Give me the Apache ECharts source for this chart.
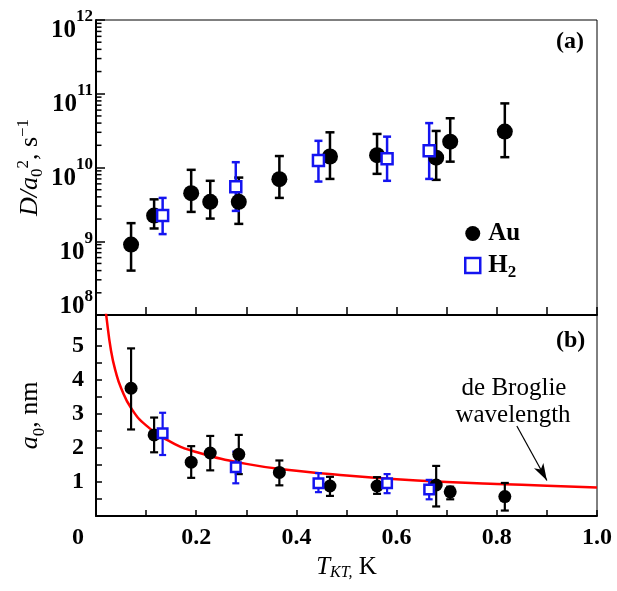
<!DOCTYPE html>
<html><head><meta charset="utf-8">
<script src="https://cdn.jsdelivr.net/npm/echarts@6/dist/echarts.min.js"></script>
<style>html,body{margin:0;padding:0;background:#fff}#c{width:617px;height:591px}</style>
</head><body><div id="c"></div>
<script>
// ---- data ----
const auT    = [0.07, 0.116, 0.19, 0.228, 0.285, 0.366, 0.467, 0.561, 0.679, 0.707, 0.816];
const auD    = [0.9e9, 2.23e9, 4.49e9, 3.42e9, 3.42e9, 6.94e9, 1.41e10, 1.47e10, 1.36e10, 2.24e10, 3.07e10];
const auDhi  = [1.76e9, 3.7e9, 9.3e9, 6.6e9, 7.3e9, 1.43e10, 3.0e10, 2.85e10, 3.13e10, 4.65e10, 7.4e10];
const auDlo  = [4.0e8, 1.49e9, 2.5e9, 2.03e9, 1.72e9, 3.87e9, 7.0e9, 8.2e9, 6.8e9, 1.2e10, 1.38e10];
const h2T    = [0.133, 0.279, 0.444, 0.581, 0.665];
const h2D    = [2.23e9, 5.5e9, 1.24e10, 1.31e10, 1.69e10];
const h2Dhi  = [3.87e9, 1.18e10, 2.3e10, 2.62e10, 4.0e10];
const h2Dlo  = [1.25e9, 2.58e9, 6.45e9, 6.6e9, 7.0e9];
const auA    = [3.75, 2.38, 1.58, 1.85, 1.81, 1.28, 0.88, 0.88, 0.91, 0.71, 0.57];
const auAhi  = [4.92, 2.89, 2.05, 2.35, 2.38, 1.63, 1.15, 1.14, 1.47, 0.86, 0.97];
const auAlo  = [2.54, 1.87, 1.12, 1.34, 1.23, 0.90, 0.59, 0.65, 0.28, 0.49, 0.16];
const h2A    = [2.43, 1.43, 0.96, 0.96, 0.78];
const h2Ahi  = [3.03, 1.89, 1.26, 1.23, 1.06];
const h2Alo  = [1.79, 0.96, 0.70, 0.67, 0.49];
const curveT = [0.019, 0.02, 0.03, 0.04, 0.05, 0.07, 0.1, 0.15, 0.2, 0.3, 0.4, 0.5, 0.6, 0.7, 0.8, 0.9, 1.0];
const curveA = [6.09, 5.94, 4.85, 4.2, 3.76, 3.17, 2.66, 2.17, 1.88, 1.53, 1.33, 1.19, 1.08, 1.0, 0.94, 0.89, 0.84];
const arrowFrom = [0.84, 2.64];
const arrowTo   = [0.90, 1.04];
const logDecades = [8, 9, 10, 11];
const logMantissas = [2, 3, 4, 5, 6, 7, 8, 9];

// ---- helpers ----
const F = '"Liberation Serif","Times New Roman",serif';
const BLUE = '#1414f0';
const zip2 = (a, b) => a.map((x, i) => [x, b[i]]);
const zip3 = (a, lo, hi) => a.map((x, i) => [x, lo[i], hi[i]]);
const logMinor = [];
logDecades.forEach(d => logMantissas.forEach(m => logMinor.push([0, m * Math.pow(10, d)])));

function errBar(color, cap, lw) {
  return function (params, api) {
    const x = api.value(0), lo = api.value(1), hi = api.value(2);
    const a = api.coord([x, hi]), b = api.coord([x, lo]);
    const st = { stroke: color, lineWidth: lw };
    return { type: 'group', children: [
      { type: 'line', shape: { x1: a[0], y1: a[1], x2: b[0], y2: b[1] }, style: st },
      { type: 'line', shape: { x1: a[0] - cap / 2, y1: a[1], x2: a[0] + cap / 2, y2: a[1] }, style: st },
      { type: 'line', shape: { x1: b[0] - cap / 2, y1: b[1], x2: b[0] + cap / 2, y2: b[1] }, style: st }
    ]};
  };
}
const txt = (o) => Object.assign({ fontFamily: F, color: '#000' }, o);

const chart = echarts.init(document.getElementById('c'));
chart.setOption({
  animation: false,
  backgroundColor: '#fff',
  textStyle: { fontFamily: F, color: '#000' },
  grid: [
    { left: 96, top: 20, width: 501, height: 295, show: true, borderColor: '#000', borderWidth: 1, backgroundColor: 'transparent' },
    { left: 96, top: 315, width: 501, height: 201, show: true, borderColor: '#000', borderWidth: 1, backgroundColor: 'transparent' }
  ],
  xAxis: [
    { type: 'value', gridIndex: 0, min: 0, max: 1, interval: 0.1,
      axisLine: { lineStyle: { color: '#000', width: 2 } },
      axisTick: { inside: true, length: 8, lineStyle: { color: '#000', width: 1.5 } },
      axisLabel: { show: false }, splitLine: { show: false } },
    { type: 'value', gridIndex: 1, min: 0, max: 1, interval: 0.1,
      axisLine: { lineStyle: { color: '#000', width: 2 } },
      axisTick: { inside: true, length: 6, lineStyle: { color: '#000', width: 1.5 } },
      axisLabel: { margin: 10, fontSize: 24, fontWeight: 'bold', fontFamily: F, color: '#000',
        formatter: v => { const k = Math.round(v * 10); return (k > 0 && k % 2 === 0) ? (k / 10).toFixed(1) : ''; } },
      splitLine: { show: false },
      name: '{i|T}{sub|KT,}{n| K}', nameLocation: 'middle', nameGap: 37, nameMoveOverlap: false,
      nameTextStyle: { fontFamily: F, color: '#000', fontSize: 24, rich: {
        i: txt({ fontSize: 25, fontStyle: 'italic' }),
        sub: txt({ fontSize: 16, fontStyle: 'italic', padding: [12, 0, 0, 0] }),
        n: txt({ fontSize: 25 }) } } }
  ],
  yAxis: [
    { type: 'log', logBase: 10, gridIndex: 0, min: 1e8, max: 1e12,
      axisLine: { show: true, lineStyle: { color: '#000', width: 2 } },
      axisTick: { inside: true, length: 9, lineStyle: { color: '#000', width: 1.5 } },
      splitLine: { show: false },
      axisLabel: { margin: 3,
        formatter: v => { const e = Math.round(Math.log10(v)); return e === 8 ? '{b8|10}{s8|8}' : '{b|10}{s|' + e + '}'; },
        rich: {
          b: txt({ fontSize: 25, fontWeight: 'bold', padding: [22, 0, 0, 0] }),
          s: txt({ fontSize: 17, fontWeight: 'bold', padding: [0, 0, 6, 0] }),
          b8: txt({ fontSize: 25, fontWeight: 'bold', padding: [0, 0, 16, 0] }),
          s8: txt({ fontSize: 17, fontWeight: 'bold', padding: [0, 0, 36, 0] })
        } },
      name: '{i|D/a}{sub|0}{sup|2}{n|, s}{sup|−1}', nameLocation: 'middle', nameGap: 50, nameRotate: 90, nameMoveOverlap: false,
      nameTextStyle: { fontFamily: F, color: '#000', fontSize: 24, rich: {
        i: txt({ fontSize: 26, fontStyle: 'italic' }),
        n: txt({ fontSize: 26 }),
        sub: txt({ fontSize: 17, padding: [14, 0, 0, 0] }),
        sup: txt({ fontSize: 17, padding: [0, 0, 14, 0] }) } } },
    { type: 'value', gridIndex: 1, min: 0, max: 5.9, interval: 1,
      axisLine: { show: true, lineStyle: { color: '#000', width: 2 } },
      axisTick: { inside: true, length: 6, lineStyle: { color: '#000', width: 1.5 } },
      minorTick: { show: true, splitNumber: 2, length: 6, lineStyle: { color: '#000', width: 1.5 } },
      splitLine: { show: false },
      axisLabel: { margin: 12, fontSize: 24, fontWeight: 'bold', fontFamily: F, color: '#000',
        formatter: v => (v > 0 && v <= 5 && Math.abs(v - Math.round(v)) < 1e-9) ? String(Math.round(v)) : '' },
      name: '{i|a}{sub|0}{n|, nm}', nameLocation: 'middle', nameGap: 48, nameRotate: 90, nameMoveOverlap: false,
      nameTextStyle: { fontFamily: F, color: '#000', fontSize: 24, rich: {
        i: txt({ fontSize: 26, fontStyle: 'italic' }),
        n: txt({ fontSize: 26 }),
        sub: txt({ fontSize: 17, padding: [18, 0, 0, 0] }) } } }
  ],
  legend: {
    orient: 'vertical', left: 459, top: 216, itemWidth: 15, itemHeight: 15, itemGap: 7, selectedMode: false,
    data: [
      { name: 'Au', icon: 'circle', itemStyle: { color: '#000', borderWidth: 0 } },
      { name: 'H2', icon: 'rect', itemStyle: { color: '#fff', borderColor: BLUE, borderWidth: 2.5 } }
    ],
    formatter: n => n === 'H2' ? '{n|H}{s|2}' : '{n|Au}',
    textStyle: { fontFamily: F, fontSize: 24, fontWeight: 'bold', color: '#000', padding: [0, 0, 0, 3], rich: {
      n: txt({ fontSize: 25, fontWeight: 'bold' }),
      s: txt({ fontSize: 17, fontWeight: 'bold', padding: [14, 0, 0, 0] }) } }
  },
  series: [
    // minor ticks of log axis (drawn through the log scale)
    { type: 'custom', xAxisIndex: 0, yAxisIndex: 0, data: logMinor, encode: { x: 0, y: 1 }, clip: false, silent: true, z: 5,
      renderItem: (p, api) => { const c = api.coord([api.value(0), api.value(1)]);
        return { type: 'line', shape: { x1: c[0], y1: c[1], x2: c[0] + 5.5, y2: c[1] }, style: { stroke: '#000', lineWidth: 1.5 } }; } },
    // panel (a)
    { type: 'custom', name: 'AuErrA', xAxisIndex: 0, yAxisIndex: 0, data: zip3(auT, auDlo, auDhi), encode: { x: 0, y: [1, 2] }, z: 2, renderItem: errBar('#000', 9, 2.5) },
    { type: 'custom', name: 'H2ErrA', xAxisIndex: 0, yAxisIndex: 0, data: zip3(h2T, h2Dlo, h2Dhi), encode: { x: 0, y: [1, 2] }, z: 2, renderItem: errBar(BLUE, 8, 2.5) },
    { type: 'scatter', name: 'Au', xAxisIndex: 0, yAxisIndex: 0, data: zip2(auT, auD), symbol: 'circle', symbolSize: 16, itemStyle: { color: '#000', opacity: 1 }, z: 3 },
    { type: 'scatter', name: 'H2', xAxisIndex: 0, yAxisIndex: 0, data: zip2(h2T, h2D), symbol: 'rect', symbolSize: 11, itemStyle: { color: '#fff', borderColor: BLUE, borderWidth: 2.5, opacity: 1 }, z: 4 },
    // panel (b)
    { type: 'line', name: 'deBroglie', xAxisIndex: 1, yAxisIndex: 1, data: zip2(curveT, curveA), smooth: true, showSymbol: false, symbol: 'none', clip: true,
      lineStyle: { color: '#ff0000', width: 2.5 }, z: 1,
      markLine: { silent: true, symbol: ['none', 'arrow'], symbolSize: [8, 17], label: { show: false },
        lineStyle: { color: '#000', width: 1.2, type: 'solid' },
        data: [[{ coord: arrowFrom }, { coord: arrowTo }]] } },
    { type: 'custom', name: 'AuErrB', xAxisIndex: 1, yAxisIndex: 1, data: zip3(auT, auAlo, auAhi), encode: { x: 0, y: [1, 2] }, z: 2, renderItem: errBar('#000', 8, 2.2) },
    { type: 'custom', name: 'H2ErrB', xAxisIndex: 1, yAxisIndex: 1, data: zip3(h2T, h2Alo, h2Ahi), encode: { x: 0, y: [1, 2] }, z: 2, renderItem: errBar(BLUE, 7, 2.2) },
    { type: 'scatter', name: 'Au', xAxisIndex: 1, yAxisIndex: 1, data: zip2(auT, auA), symbol: 'circle', symbolSize: 13, itemStyle: { color: '#000', opacity: 1 }, z: 3 },
    { type: 'scatter', name: 'H2', xAxisIndex: 1, yAxisIndex: 1, data: zip2(h2T, h2A), symbol: 'rect', symbolSize: 9.5, itemStyle: { color: '#fff', borderColor: BLUE, borderWidth: 2.5, opacity: 1 }, z: 4 }
  ],
  graphic: [
    { type: 'text', left: 556, top: 30, style: { text: '(a)', font: 'bold 24px ' + F, fill: '#000' } },
    { type: 'text', left: 556, top: 329, style: { text: '(b)', font: 'bold 24px ' + F, fill: '#000' } },
    { type: 'text', x: 78, y: 538, style: { text: '0', font: 'bold 24px ' + F, fill: '#000', align: 'center', verticalAlign: 'middle' } },
    { type: 'text', x: 514, y: 388, style: { text: 'de Broglie', font: '25px ' + F, fill: '#000', align: 'center', verticalAlign: 'middle' } },
    { type: 'text', x: 513, y: 415, style: { text: 'wavelength', font: '25px ' + F, fill: '#000', align: 'center', verticalAlign: 'middle' } }
  ]
});
</script>
</body></html>
